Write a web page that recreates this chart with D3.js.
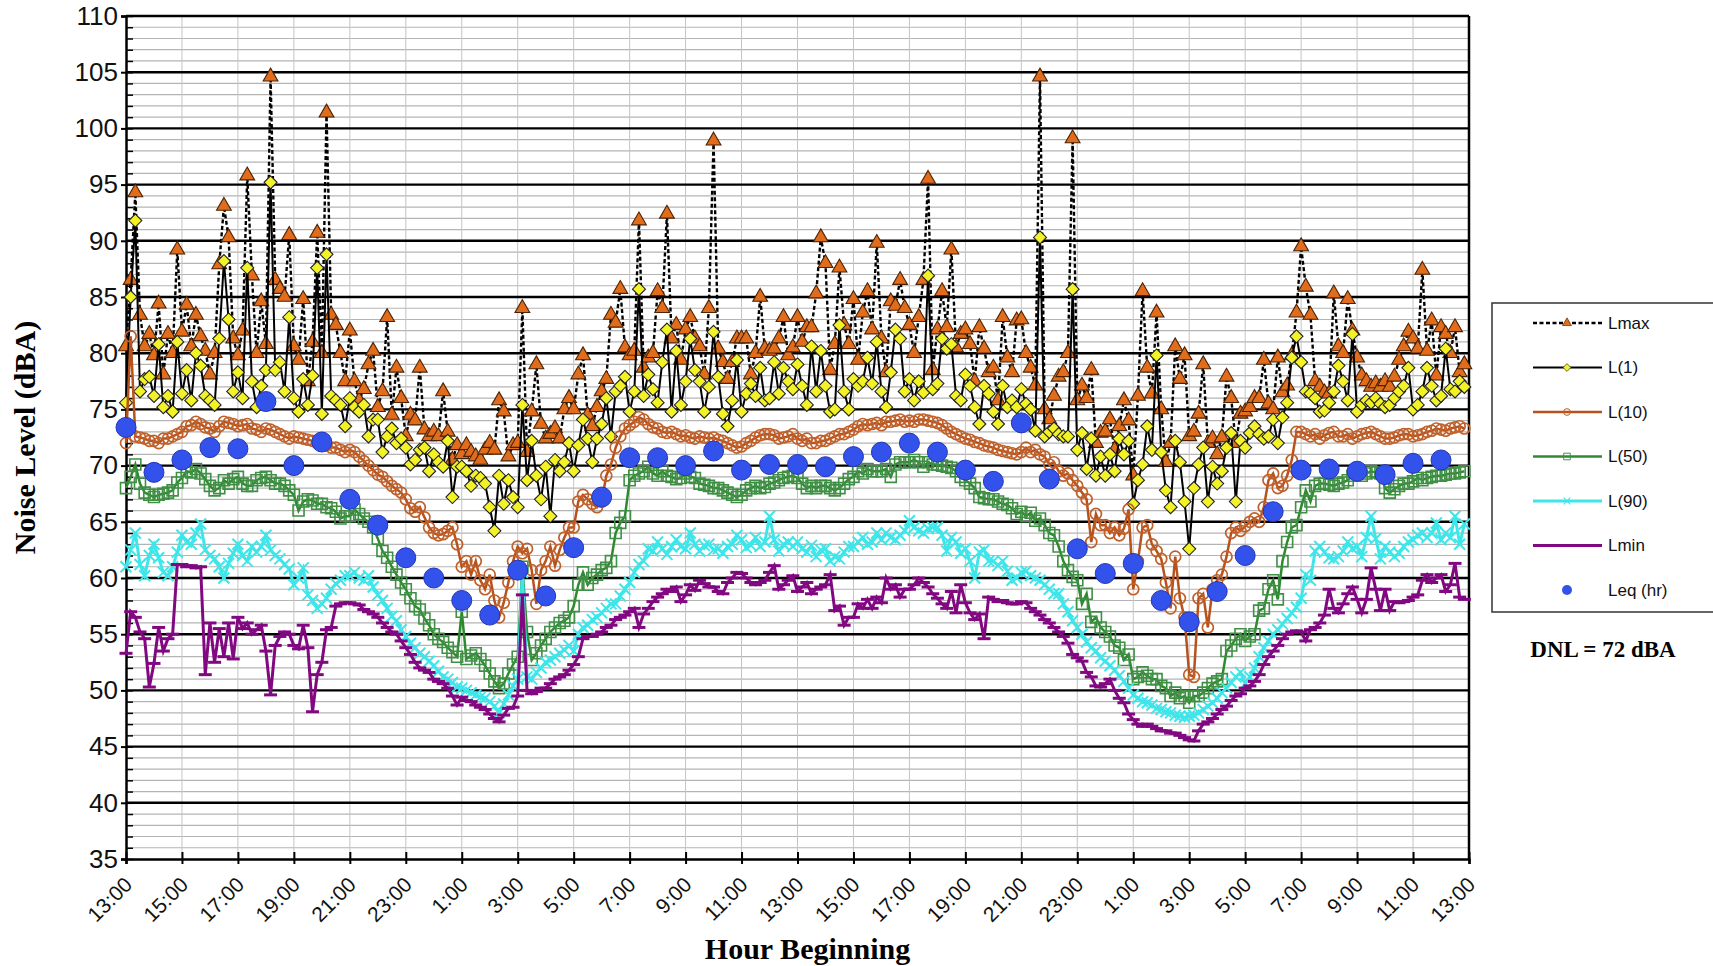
<!DOCTYPE html>
<html>
<head>
<meta charset="utf-8">
<script src="https://cdn.jsdelivr.net/npm/d3@7"></script>
<style>
  body { margin: 0; background: #fff; }
  svg { display: block; }
</style>
</head>
<body>
<svg id="chart" width="1713" height="966"></svg>
<script>
// 10-minute samples, 13:00 day 1 to 12:50 day 3 (one row = two hours)
const lmax = [
  80.6, 86.5, 94.3, 83.4, 80.6, 81.7, 79.8, 84.4, 78.1, 81.7, 80.0, 89.2,
  81.9, 84.3, 80.6, 83.4, 81.5, 80.2, 78.1, 80.0, 87.9, 93.1, 90.3, 81.3,
  79.8, 82.0, 95.8, 86.9, 80.0, 84.6, 80.8, 104.6, 86.5, 85.7, 85.0, 90.5,
  80.6, 79.4, 84.8, 77.5, 81.0, 90.7, 80.0, 101.4, 83.4, 82.5, 80.0, 77.5,
  82.0, 77.5, 75.8, 76.8, 79.0, 80.2, 75.2, 76.6, 83.2, 74.5, 78.7, 76.0,
  72.6, 74.5, 74.0, 78.7, 73.2, 72.6, 73.0, 72.6, 76.6, 73.0, 70.5, 71.8,
  71.0, 71.8, 71.2, 70.8, 70.5, 71.4, 72.0, 71.4, 75.8, 74.8, 70.8, 71.8,
  72.0, 84.0, 71.2, 74.8, 79.0, 73.7, 72.4, 72.8, 73.3, 72.4, 75.0, 76.0,
  75.0, 78.1, 79.8, 74.5, 73.5, 75.2, 76.6, 77.7, 83.4, 82.7, 85.7, 80.5,
  79.8, 80.2, 91.8, 78.7, 79.6, 80.0, 85.5, 84.0, 92.4, 81.3, 82.5, 79.4,
  82.1, 83.2, 81.3, 80.6, 78.1, 84.0, 98.9, 80.4, 79.2, 77.7, 79.2, 81.3,
  81.3, 81.3, 78.1, 80.0, 85.0, 80.4, 80.2, 80.4, 81.3, 83.2, 79.8, 80.5,
  83.2, 81.0, 82.3, 82.3, 85.3, 90.3, 88.0, 78.5, 80.8, 87.6, 82.5, 80.8,
  84.8, 79.4, 83.6, 85.5, 82.1, 89.8, 81.3, 78.3, 84.6, 84.2, 86.5, 84.0,
  82.5, 80.0, 83.2, 86.5, 95.5, 78.5, 82.1, 85.5, 82.3, 89.2, 80.5, 81.7,
  82.1, 80.8, 77.5, 82.3, 80.4, 78.3, 78.7, 75.8, 83.2, 79.6, 78.3, 82.9,
  83.0, 80.0, 78.7, 77.1, 104.6, 75.0, 74.1, 76.2, 77.9, 78.3, 80.0, 99.1,
  75.8, 77.1, 76.0, 78.5, 72.0, 72.9, 73.0, 74.1, 71.4, 73.5, 75.8, 74.0,
  69.1, 76.2, 85.5, 78.7, 76.4, 83.6, 75.0, 70.3, 72.0, 80.6, 77.7, 79.8,
  72.6, 73.0, 74.6, 79.0, 72.0, 72.4, 71.0, 72.5, 77.9, 76.0, 72.0, 74.6,
  74.8, 75.2, 76.0, 76.0, 79.4, 75.5, 75.0, 79.6, 76.5, 77.1, 79.8, 83.6,
  89.5, 85.9, 83.4, 77.5, 77.0, 76.5, 76.4, 85.3, 80.6, 80.0, 84.8, 82.0,
  79.6, 78.0, 77.5, 77.0, 77.3, 77.0, 77.5, 77.0, 77.9, 79.4, 80.6, 81.9,
  81.3, 80.4, 87.4, 80.2, 82.9, 78.0, 82.3, 81.7, 80.0, 82.3, 78.3, 79.0
]
const l1 = [
  75.6, 85.0, 91.8, 76.6, 77.7, 77.9, 76.2, 80.8, 75.2, 76.2, 74.8, 81.0,
  76.4, 78.5, 75.8, 80.0, 78.9, 76.2, 75.8, 75.4, 81.3, 88.2, 83.0, 76.6,
  78.3, 76.0, 87.6, 77.5, 75.2, 77.1, 78.5, 95.2, 78.5, 79.2, 76.6, 83.2,
  76.0, 74.8, 77.7, 75.4, 78.0, 87.6, 74.6, 88.8, 76.2, 75.8, 75.4, 73.5,
  76.0, 75.2, 74.8, 75.4, 72.6, 74.1, 74.1, 71.2, 72.6, 73.3, 72.0, 72.4,
  71.6, 70.1, 70.5, 71.4, 71.6, 69.5, 71.0, 70.3, 69.9, 72.2, 67.2, 69.9,
  69.9, 69.5, 68.2, 69.1, 68.9, 68.4, 66.3, 64.2, 69.1, 66.6, 68.7, 67.2,
  66.3, 75.4, 68.7, 72.2, 69.1, 67.0, 69.9, 65.5, 70.5, 69.5, 70.3, 72.0,
  69.5, 71.8, 74.1, 72.4, 70.3, 72.4, 73.7, 76.0, 72.6, 76.6, 77.1, 77.9,
  74.8, 76.6, 85.7, 76.2, 78.1, 76.8, 75.6, 79.2, 82.1, 74.8, 80.2, 75.4,
  77.5, 81.3, 78.5, 77.5, 74.8, 77.0, 81.9, 77.9, 74.6, 73.5, 75.8, 79.4,
  74.8, 76.4, 77.3, 76.2, 78.7, 75.8, 76.0, 79.2, 76.4, 78.7, 77.5, 76.8,
  79.0, 77.1, 75.4, 80.6, 76.6, 80.2, 77.1, 74.8, 75.0, 82.5, 76.6, 75.0,
  77.7, 77.1, 77.5, 79.6, 77.3, 81.0, 76.6, 75.2, 78.3, 82.1, 81.3, 76.6,
  77.7, 75.8, 77.5, 76.5, 86.9, 76.8, 77.3, 81.3, 80.4, 80.8, 76.2, 75.8,
  78.1, 77.1, 75.2, 73.7, 77.1, 76.4, 74.8, 73.7, 77.1, 75.2, 75.8, 75.2,
  76.8, 75.5, 75.0, 73.1, 90.3, 72.6, 73.0, 73.3, 72.8, 72.6, 72.6, 85.7,
  71.4, 72.9, 69.7, 72.4, 69.1, 70.8, 69.1, 71.0, 69.5, 72.4, 71.0, 72.2,
  66.6, 68.7, 70.1, 73.5, 71.4, 79.8, 71.2, 67.8, 66.3, 72.2, 70.3, 66.8,
  62.6, 68.0, 70.1, 71.6, 66.8, 69.9, 68.4, 69.5, 71.6, 72.9, 66.8, 72.2,
  71.6, 72.9, 73.5, 72.8, 72.4, 72.6, 74.1, 72.0, 74.3, 75.6, 79.6, 81.5,
  79.2, 76.6, 76.4, 76.0, 74.8, 74.9, 75.6, 76.6, 78.9, 77.5, 75.8, 81.7,
  74.8, 75.4, 75.8, 75.6, 76.0, 75.5, 75.2, 75.4, 76.0, 76.6, 77.1, 78.7,
  75.0, 75.4, 76.6, 78.7, 77.1, 75.8, 76.2, 80.4, 76.8, 76.6, 77.5, 77.0
]
const l10 = [
  72.0, 81.5, 72.6, 72.5, 72.4, 72.2, 72.2, 72.0, 72.4, 72.4, 72.6, 72.8,
  73.0, 73.5, 73.6, 73.9, 73.7, 73.4, 73.3, 73.0, 73.5, 73.9, 73.8, 73.7,
  73.5, 73.6, 73.7, 73.3, 73.2, 73.0, 73.3, 73.2, 73.0, 72.8, 72.6, 72.4,
  72.6, 72.5, 72.4, 72.3, 72.2, 72.0, 71.8, 71.8, 71.6, 71.6, 71.4, 71.2,
  71.4, 71.2, 70.8, 70.4, 70.0, 69.6, 69.2, 69.0, 68.6, 68.2, 67.9, 67.6,
  67.0, 66.2, 65.9, 66.3, 65.4, 64.5, 64.0, 63.8, 63.9, 64.2, 64.5, 63.0,
  61.0, 61.5, 60.3, 61.5, 59.8, 59.0, 60.3, 58.0, 56.5, 57.8, 59.6, 61.5,
  62.8, 62.2, 62.6, 60.7, 57.7, 60.7, 61.5, 62.8, 61.1, 62.5, 63.6, 64.5,
  64.5, 66.8, 67.4, 67.0, 66.6, 66.3, 66.8, 69.1, 70.1, 71.6, 72.6, 73.3,
  73.6, 73.9, 74.3, 74.1, 73.7, 73.4, 73.3, 73.0, 72.9, 73.0, 72.8, 72.6,
  72.7, 72.5, 72.4, 72.6, 72.5, 72.4, 72.5, 72.3, 72.2, 72.0, 71.8, 71.6,
  71.7, 72.0, 72.2, 72.5, 72.7, 72.8, 72.8, 72.7, 72.4, 72.5, 72.6, 72.8,
  72.4, 72.2, 72.4, 72.0, 72.0, 72.2, 72.2, 72.4, 72.6, 72.8, 72.8, 73.0,
  73.2, 73.5, 73.7, 73.6, 73.7, 73.8, 73.6, 73.9, 73.9, 74.0, 74.1, 73.9,
  74.0, 73.9, 74.1, 74.1, 74.0, 73.9, 73.8, 73.6, 73.3, 73.0, 72.8, 72.6,
  72.4, 72.3, 72.1, 72.0, 71.8, 71.7, 71.6, 71.4, 71.3, 71.2, 71.1, 71.0,
  71.2, 71.6, 71.2, 71.4, 71.0, 70.8, 70.1, 70.3, 69.5, 69.1, 69.3, 68.7,
  68.2, 67.6, 67.0, 63.2, 65.7, 64.7, 64.7, 64.0, 64.5, 63.8, 64.4, 66.1,
  59.0, 61.5, 64.5, 64.7, 63.0, 62.4, 61.7, 59.6, 57.3, 61.9, 58.2, 56.5,
  51.4, 51.2, 58.2, 58.6, 55.6, 59.0, 59.8, 60.3, 61.9, 64.0, 64.5, 64.2,
  64.6, 65.0, 65.3, 65.0, 66.3, 68.7, 69.3, 68.0, 68.2, 69.1, 70.5, 73.0,
  73.0, 72.8, 72.6, 72.8, 72.4, 72.7, 72.9, 73.0, 72.6, 72.6, 72.8, 72.4,
  72.6, 72.8, 72.9, 73.0, 72.8, 72.6, 72.4, 72.4, 72.5, 72.7, 72.8, 72.8,
  72.6, 72.7, 72.8, 73.0, 73.1, 73.3, 73.2, 73.1, 73.3, 73.4, 73.5, 73.3
]
const l50 = [
  68.0, 69.0, 70.1, 68.4, 67.6, 67.4, 67.2, 67.4, 67.5, 67.6, 67.8, 68.5,
  68.9, 69.5, 69.4, 69.7, 69.3, 68.8, 68.2, 67.8, 68.0, 68.7, 68.4, 68.8,
  69.0, 68.4, 68.2, 68.2, 68.7, 68.9, 69.0, 68.7, 68.4, 68.4, 68.2, 67.8,
  67.4, 66.0, 66.8, 67.0, 66.9, 66.6, 66.6, 66.3, 66.2, 65.9, 65.3, 65.5,
  65.5, 66.1, 65.7, 65.3, 65.0, 64.5, 63.5, 62.4, 61.8, 61.0, 60.3, 59.6,
  59.0, 58.2, 57.5, 57.2, 56.4, 55.8, 55.0, 54.6, 54.3, 53.8, 53.4, 53.0,
  57.0, 52.8, 53.1, 53.3, 52.8, 52.2, 51.5, 50.8, 50.2, 50.6, 51.5, 52.3,
  53.0, 61.0, 55.2, 52.7, 53.3, 54.0, 54.6, 55.2, 55.6, 56.0, 56.2, 56.5,
  57.5, 59.4, 60.5, 59.4, 60.0, 60.3, 60.7, 60.9, 61.5, 64.0, 64.9, 65.5,
  68.7, 69.1, 69.3, 69.5, 69.9, 69.3, 69.1, 69.5, 69.1, 69.0, 68.8, 68.9,
  69.3, 69.0, 68.9, 68.4, 68.3, 68.2, 68.0, 68.0, 67.8, 67.6, 67.4, 67.2,
  67.4, 67.8, 68.0, 68.2, 68.0, 68.1, 68.4, 68.5, 68.7, 68.9, 69.0, 69.1,
  68.9, 68.4, 68.0, 68.2, 68.0, 68.2, 68.2, 68.0, 67.8, 68.0, 68.4, 68.8,
  69.0, 69.5, 69.3, 69.7, 69.5, 69.5, 69.5, 69.7, 69.0, 70.1, 70.3, 70.3,
  70.3, 70.5, 70.3, 69.9, 70.3, 70.1, 70.1, 70.0, 69.9, 69.8, 69.5, 69.0,
  68.7, 68.4, 68.0, 67.2, 67.1, 67.0, 67.0, 66.8, 66.6, 66.5, 66.2, 65.7,
  65.9, 65.5, 65.8, 65.1, 65.3, 64.7, 64.0, 63.8, 62.8, 61.5, 60.7, 60.1,
  59.8, 57.7, 58.6, 56.1, 56.5, 55.6, 55.2, 54.8, 54.0, 53.8, 52.7, 53.2,
  51.0, 51.2, 51.6, 51.3, 51.0, 51.0, 50.4, 50.2, 49.5, 49.8, 49.3, 49.5,
  48.9, 49.5, 49.5, 49.8, 50.2, 50.6, 50.8, 51.0, 53.5, 54.0, 54.6, 55.0,
  54.4, 54.8, 55.0, 57.1, 57.3, 59.0, 59.8, 58.1, 61.5, 63.2, 64.5, 64.7,
  66.3, 67.8, 66.8, 68.2, 68.4, 68.4, 68.3, 68.2, 68.4, 68.5, 68.7, 69.1,
  69.3, 69.1, 69.3, 69.5, 69.4, 69.3, 68.0, 67.6, 67.9, 68.2, 68.4, 68.4,
  68.6, 68.9, 68.7, 68.9, 69.0, 69.1, 69.1, 69.2, 69.3, 69.3, 69.4, 69.5
]
const l90 = [
  61.0, 62.5, 64.0, 61.2, 60.2, 62.0, 63.0, 61.8, 60.5, 60.2, 61.0, 62.3,
  63.8, 63.2, 63.0, 64.0, 64.8, 62.5, 62.0, 61.7, 61.0, 60.0, 61.3, 62.2,
  63.0, 62.0, 61.5, 62.8, 62.3, 62.8, 63.8, 62.5, 62.0, 61.7, 61.2, 60.8,
  59.4, 60.0, 60.9, 58.5, 58.0, 57.3, 57.7, 58.2, 59.0, 59.5, 59.8, 60.2,
  60.2, 60.5, 60.0, 59.8, 60.2, 59.2, 58.5, 58.0, 57.3, 56.6, 56.2, 55.4,
  54.8, 54.2, 53.8, 53.3, 53.0, 52.6, 52.2, 51.7, 51.2, 51.0, 50.7, 50.3,
  50.2, 50.0, 49.8, 49.6, 49.4, 49.3, 49.0, 48.6, 48.0, 48.8, 49.6, 50.4,
  51.0, 60.5, 51.2, 51.0, 51.6, 52.0, 52.5, 52.7, 53.0, 53.3, 53.6, 54.0,
  53.5, 55.0, 55.6, 55.8, 56.3, 56.5, 56.9, 57.3, 57.7, 57.7, 58.4, 59.0,
  59.6, 60.5, 61.2, 61.5, 62.6, 62.4, 63.2, 62.6, 62.1, 62.8, 63.4, 62.8,
  62.6, 64.0, 63.0, 62.4, 62.9, 63.0, 62.5, 62.6, 62.2, 62.8, 63.0, 63.8,
  63.4, 62.7, 62.9, 63.6, 62.8, 63.2, 65.5, 63.4, 62.4, 63.0, 63.2, 62.8,
  63.2, 62.6, 62.3, 62.9, 61.9, 62.5, 62.6, 61.5, 61.9, 61.7, 62.3, 62.8,
  62.8, 63.2, 63.6, 63.0, 63.2, 64.0, 63.4, 64.0, 63.6, 63.4, 63.8, 64.2,
  65.1, 64.5, 64.2, 64.0, 64.4, 64.5, 64.5, 63.8, 62.4, 63.6, 63.2, 62.2,
  62.6, 61.5, 60.0, 62.3, 62.5, 61.5, 61.5, 61.1, 61.5, 60.6, 59.8, 60.0,
  60.5, 60.6, 60.2, 60.0, 59.8, 59.4, 59.0, 58.6, 58.6, 57.7, 57.0, 56.2,
  55.6, 55.0, 54.3, 53.8, 53.5, 52.9, 52.6, 52.2, 51.8, 51.3, 50.8, 50.2,
  49.6, 49.3, 49.0, 48.9, 48.7, 48.4, 48.3, 48.1, 48.0, 47.8, 47.7, 47.6,
  47.7, 47.8, 48.0, 48.3, 48.6, 48.9, 49.3, 49.8, 50.2, 50.7, 51.2, 51.6,
  50.6, 51.2, 52.0, 53.0, 53.8, 54.4, 55.0, 55.4, 55.9, 56.4, 56.9, 57.4,
  58.2, 60.3, 59.8, 62.4, 62.8, 62.3, 61.8, 61.7, 61.9, 62.4, 63.2, 62.6,
  62.8, 61.9, 63.6, 65.5, 63.5, 61.7, 62.8, 62.3, 61.9, 62.2, 62.8, 63.2,
  63.4, 63.8, 64.0, 63.6, 64.0, 64.9, 63.4, 64.0, 63.6, 65.5, 63.0, 64.8
]
const lmin = [
  53.3, 57.0, 56.5, 55.2, 54.6, 50.3, 52.4, 55.6, 53.5, 54.6, 55.0, 61.2,
  61.2, 61.0, 61.1, 60.9, 61.0, 51.4, 56.0, 52.5, 55.5, 53.0, 56.0, 52.8,
  56.5, 55.5, 56.0, 55.0, 55.4, 55.8, 53.5, 49.6, 54.0, 54.8, 55.2, 55.0,
  54.0, 53.7, 55.8, 53.8, 48.1, 51.4, 52.5, 55.4, 55.6, 57.5, 57.7, 57.8,
  57.8, 57.7, 57.6, 57.2, 57.0, 56.8, 56.5, 56.0, 55.6, 55.2, 55.0, 54.4,
  53.8, 53.2, 52.5, 52.0, 51.8, 51.6, 51.0, 50.8, 50.6, 50.2, 49.5, 48.7,
  49.4, 49.1, 49.0, 48.7, 48.5, 48.3, 47.9, 47.5, 47.2, 47.8, 48.4, 48.5,
  49.5, 58.5, 50.0, 49.7, 49.9, 50.2, 50.2, 50.6, 51.0, 51.2, 51.4, 51.8,
  52.3, 53.0, 54.6, 54.8, 54.8, 55.0, 55.2, 55.6, 55.8, 56.3, 56.5, 56.7,
  57.0, 57.3, 55.6, 56.8, 57.3, 57.9, 58.3, 58.6, 59.0, 58.8, 59.2, 57.9,
  58.5, 59.4, 58.9, 59.8, 59.5, 59.2, 59.2, 58.8, 58.6, 59.6, 60.0, 60.5,
  60.4, 60.0, 59.6, 59.4, 59.6, 59.8, 60.5, 61.1, 59.0, 59.4, 59.8, 60.2,
  58.8, 59.2, 59.6, 58.6, 59.0, 59.2, 59.4, 60.3, 57.1, 57.5, 55.8, 56.5,
  56.5, 57.7, 57.3, 58.1, 57.3, 58.3, 57.8, 60.0, 59.0, 59.4, 58.3, 59.0,
  59.0, 59.4, 60.0, 59.6, 59.2, 58.6, 58.2, 57.7, 57.3, 58.8, 56.9, 59.4,
  57.8, 56.9, 56.3, 56.8, 54.6, 58.3, 58.1, 57.9, 58.0, 57.8, 57.7, 57.7,
  57.9, 57.8, 57.3, 57.0, 56.7, 56.3, 56.0, 55.6, 55.2, 54.8, 54.2, 53.2,
  52.9, 52.6, 51.6, 51.2, 50.4, 50.3, 50.6, 51.0, 50.0, 49.3, 48.9, 47.9,
  47.4, 47.0, 46.8, 47.0, 46.8, 46.6, 46.4, 46.4, 46.2, 46.2, 46.0, 45.8,
  45.6, 45.5, 46.4, 47.0, 47.2, 47.5, 47.9, 48.3, 48.6, 49.1, 49.5, 49.7,
  50.2, 50.4, 50.8, 51.4, 52.3, 53.0, 53.5, 54.0, 54.6, 55.0, 55.2, 55.3,
  55.2, 54.4, 55.4, 55.6, 56.0, 56.7, 59.0, 57.3, 56.9, 57.7, 58.6, 59.2,
  58.1, 56.9, 58.1, 60.9, 59.0, 57.1, 59.0, 57.1, 57.9, 57.8, 57.9, 58.0,
  58.3, 58.5, 59.8, 60.3, 59.6, 60.0, 60.3, 58.8, 59.4, 61.3, 58.3, 58.1
]
// hourly Leq, one value per hour beginning
const leq = [
  73.4, 69.4, 70.5, 71.6, 71.5, 75.7, 70.0, 72.1, 67.0, 64.7, 61.8, 60.0,
  58.0, 56.7, 60.7, 58.4, 62.7, 67.2, 70.7, 70.7, 70.0, 71.3, 69.6, 70.1,
  70.1, 69.9, 70.8, 71.2, 72.0, 71.2, 69.6, 68.6, 73.8, 68.8, 62.6, 60.4,
  61.3, 58.0, 56.1, 58.8, 62.0, 65.9, 69.6, 69.7, 69.5, 69.2, 70.2, 70.5
]
const hourTicks = ['13:00', '15:00', '17:00', '19:00', '21:00', '23:00', '1:00', '3:00', '5:00',
  '7:00', '9:00', '11:00', '13:00', '15:00', '17:00', '19:00', '21:00', '23:00', '1:00',
  '3:00', '5:00', '7:00', '9:00', '11:00', '13:00']
const legendNames = ['Lmax', 'L(1)', 'L(10)', 'L(50)', 'L(90)', 'Lmin', 'Leq (hr)']
const dnlText = 'DNL = 72 dBA'

const svg = d3.select('#chart')
const x = d3.scaleLinear().domain([0, 48]).range([126, 1469])
const y = d3.scaleLinear().domain([35, 110]).range([859, 16])
const sans = 'Liberation Sans, Arial, sans-serif'
const serif = 'Liberation Serif, Times New Roman, serif'

// marker shapes
const shapes = {
  tri: d3.symbol(d3.symbolTriangle, 95)(),
  diamond: 'M0,-6.5L6.5,0L0,6.5L-6.5,0Z',
  circle: d3.symbol(d3.symbolCircle, 95)(),
  square: 'M-5.5,-5.5h11v11h-11Z',
  cross: 'M-5.5,-5.5L5.5,5.5M-5.5,5.5L5.5,-5.5',
  dash: 'M-6.5,0H6.5'
}

const series = [
  {values: lmax, line: '#000', lw: 2.4, dash: '4,2.5', shape: 'tri', fill: '#e06c1c', stroke: '#4a2306', sw: 1.1},
  {values: l1, line: '#000', lw: 2, dash: null, shape: 'diamond', fill: '#f2f226', stroke: '#222', sw: 1.1},
  {values: l10, line: '#b8521c', lw: 2.5, dash: null, shape: 'circle', fill: 'none', stroke: '#c0602a', sw: 1.7},
  {values: l50, line: '#2f8a2f', lw: 2.5, dash: null, shape: 'square', fill: 'none', stroke: '#3f8f45', sw: 1.6},
  {values: l90, line: '#3ee6ea', lw: 3, dash: null, shape: 'cross', fill: 'none', stroke: '#3ee6ea', sw: 2},
  {values: lmin, line: '#820882', lw: 3, dash: null, shape: 'dash', fill: 'none', stroke: '#820882', sw: 3}
]

// grid
const grid = svg.append('g')
grid.selectAll('line.minor')
  .data(d3.range(36, 110).filter(v => v % 5 !== 0))
  .join('line')
  .attr('x1', x(0)).attr('x2', x(48))
  .attr('y1', d => y(d)).attr('y2', d => y(d))
  .attr('stroke', '#b4b4b4').attr('stroke-width', 1.2)
grid.selectAll('line.vert')
  .data(d3.range(2, 48, 2))
  .join('line')
  .attr('x1', d => x(d)).attr('x2', d => x(d))
  .attr('y1', y(110)).attr('y2', y(35))
  .attr('stroke', '#c4c4c4').attr('stroke-width', 1)
grid.selectAll('line.major')
  .data(d3.range(40, 111, 5))
  .join('line')
  .attr('x1', x(0)).attr('x2', x(48))
  .attr('y1', d => y(d)).attr('y2', d => y(d))
  .attr('stroke', '#000').attr('stroke-width', 2.4)

// axes
const yAxis = svg.append('g').attr('transform', `translate(${x(0)},0)`)
  .call(d3.axisLeft(y).tickValues(d3.range(35, 111, 5)).tickSize(5).tickPadding(3))
yAxis.select('.domain').attr('stroke-width', 2.5)
yAxis.selectAll('.tick line').attr('stroke-width', 2)
yAxis.selectAll('.tick text').attr('font-family', sans).attr('font-size', 26).attr('fill', '#111')
svg.append('g').attr('transform', `translate(${x(0)},0)`)
  .call(d3.axisRight(y).tickValues(d3.range(35, 111)).tickSize(7).tickFormat(''))
  .call(g => g.select('.domain').remove())
  .selectAll('.tick line').attr('stroke-width', 1.5)

const xAxis = svg.append('g').attr('transform', `translate(0,${y(35)})`)
  .call(d3.axisBottom(x).tickValues(d3.range(0, 49, 2)).tickSize(5).tickFormat((d, i) => hourTicks[i]))
xAxis.select('.domain').attr('stroke-width', 2.5)
xAxis.selectAll('.tick line').attr('stroke-width', 2)
xAxis.selectAll('.tick text')
  .attr('font-family', sans).attr('font-size', 21).attr('fill', '#111')
  .attr('text-anchor', 'end').attr('dy', null).attr('y', 0)
  .attr('transform', 'translate(7,27) rotate(-45)')
svg.append('g').attr('transform', `translate(0,${y(35)})`)
  .call(d3.axisTop(x).tickValues(d3.range(0, 49, 2)).tickSize(7).tickFormat(''))
  .call(g => g.select('.domain').remove())
  .selectAll('.tick line').attr('stroke-width', 2)

svg.append('line')
  .attr('x1', x(48)).attr('x2', x(48)).attr('y1', y(110)).attr('y2', y(35))
  .attr('stroke', '#000').attr('stroke-width', 2.5)

// series
const line = d3.line().x((d, i) => x(i / 6)).y(d => y(d))
series.forEach(s => {
  const g = svg.append('g')
  g.append('path').datum(s.values)
    .attr('d', line)
    .attr('fill', 'none')
    .attr('stroke', s.line)
    .attr('stroke-width', s.lw)
    .attr('stroke-dasharray', s.dash)
  g.selectAll('path.mk').data(s.values)
    .join('path').attr('class', 'mk')
    .attr('transform', (d, i) => `translate(${x(i / 6)},${y(d)})`)
    .attr('d', shapes[s.shape])
    .attr('fill', s.fill).attr('stroke', s.stroke).attr('stroke-width', s.sw)
})
svg.append('g').selectAll('circle').data(leq)
  .join('circle')
  .attr('cx', (d, i) => x(i)).attr('cy', d => y(d)).attr('r', 10)
  .attr('fill', '#3352ec').attr('stroke', '#2236b8').attr('stroke-width', 1)

// titles
svg.append('text')
  .attr('transform', `translate(35,${y(72.5)}) rotate(-90)`)
  .attr('text-anchor', 'middle')
  .attr('font-family', serif).attr('font-weight', 'bold').attr('font-size', 30)
  .text('Noise Level (dBA)')
svg.append('text')
  .attr('x', (x(0) + x(48)) / 2 + 10).attr('y', 959)
  .attr('text-anchor', 'middle')
  .attr('font-family', serif).attr('font-weight', 'bold').attr('font-size', 30)
  .text('Hour Beginning')

// legend
const lg = svg.append('g')
lg.append('rect').attr('x', 1492).attr('y', 303).attr('width', 240).attr('height', 309)
  .attr('fill', '#fff').attr('stroke', '#333').attr('stroke-width', 1.5)
const rowY = d3.scalePoint().domain(legendNames).range([323, 590])
legendNames.forEach((name, i) => {
  const ry = rowY(name)
  const s = series[i]
  if (s) {
    lg.append('line').attr('x1', 1533).attr('x2', 1602).attr('y1', ry).attr('y2', ry)
      .attr('stroke', s.line).attr('stroke-width', s.lw).attr('stroke-dasharray', s.dash)
    lg.append('path').attr('transform', `translate(1567,${ry}) scale(0.6)`)
      .attr('d', shapes[s.shape]).attr('fill', s.fill).attr('stroke', s.stroke).attr('stroke-width', s.sw)
  } else {
    lg.append('circle').attr('cx', 1567).attr('cy', ry).attr('r', 5).attr('fill', '#3352ec')
  }
  lg.append('text').attr('x', 1608).attr('y', ry).attr('dy', '0.35em')
    .attr('font-family', sans).attr('font-size', 17).attr('fill', '#111')
    .text(name)
})
svg.append('text')
  .attr('x', 1603).attr('y', 657).attr('text-anchor', 'middle')
  .attr('font-family', serif).attr('font-weight', 'bold').attr('font-size', 23)
  .text(dnlText)
</script>
</body>
</html>
